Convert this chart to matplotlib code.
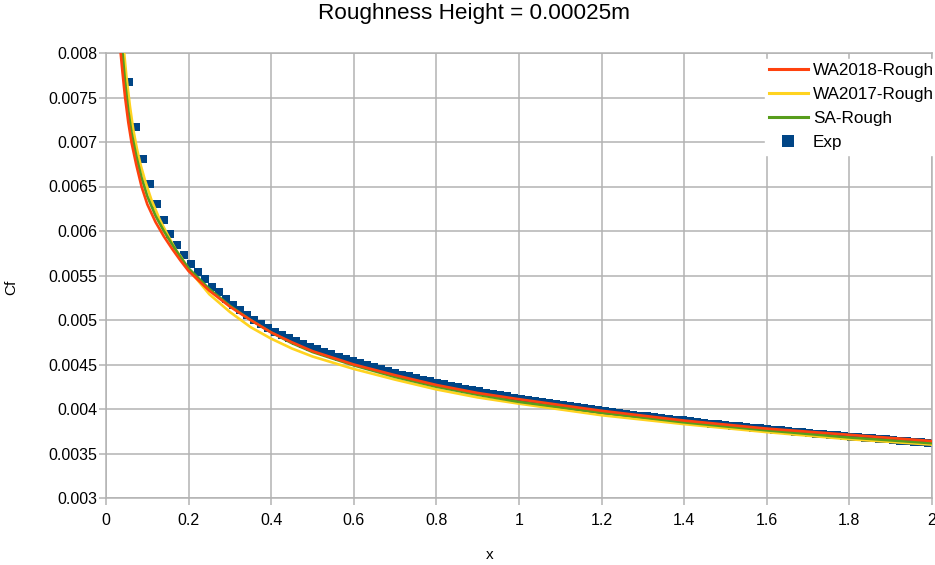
import matplotlib
matplotlib.use("Agg")
import matplotlib.pyplot as plt
from matplotlib.lines import Line2D

plt.rcParams['font.family'] = ['Liberation Sans', 'DejaVu Sans']

title = "Roughness Height = 0.00025m"
xlabel = "x"
ylabel = "Cf"
series_names = ["WA2018-Rough", "WA2017-Rough", "SA-Rough", "Exp"]
xticks = [0, 0.2, 0.4, 0.6, 0.8, 1, 1.2, 1.4, 1.6, 1.8, 2]
xtick_labels = ["0", "0.2", "0.4", "0.6", "0.8", "1", "1.2", "1.4", "1.6", "1.8", "2"]
yticks = [0.003, 0.0035, 0.004, 0.0045, 0.005, 0.0055, 0.006, 0.0065, 0.007, 0.0075, 0.008]
ytick_labels = ["0.003", "0.0035", "0.004", "0.0045", "0.005", "0.0055", "0.006",
                "0.0065", "0.007", "0.0075", "0.008"]

wa2018_x = [0.033, 0.0355, 0.040, 0.046, 0.054, 0.062, 0.073, 0.086, 0.100, 0.120, 0.140,
            0.160, 0.180, 0.200, 0.250, 0.300, 0.350, 0.400, 0.450, 0.500, 0.600, 0.700,
            0.800, 0.900, 1.000, 1.200, 1.400, 1.600, 1.800, 2.000]
wa2018_y = [0.00813, 0.00800, 0.00778, 0.00751, 0.00722, 0.00699, 0.00675, 0.00650, 0.00630,
            0.00610, 0.00594, 0.00580, 0.00567, 0.00555, 0.00533, 0.00515, 0.00500, 0.00486,
            0.00475, 0.00465, 0.00450, 0.00438, 0.00427, 0.00418, 0.00411, 0.00398, 0.00387,
            0.00378, 0.00371, 0.00364]

wa2017_x = [0.041, 0.044, 0.050, 0.058, 0.066, 0.075, 0.084, 0.095, 0.110, 0.130, 0.150,
            0.170, 0.180, 0.200, 0.250, 0.300, 0.350, 0.400, 0.450, 0.500, 0.600, 0.700,
            0.800, 0.900, 1.000, 1.200, 1.400, 1.600, 1.800, 2.000]
wa2017_y = [0.00815, 0.00800, 0.00771, 0.00740, 0.00714, 0.00692, 0.00674, 0.00656, 0.00635,
            0.00613, 0.00595, 0.00578, 0.00572, 0.00557, 0.00529, 0.00509, 0.00492, 0.00479,
            0.00468, 0.00459, 0.00445, 0.00433, 0.00422, 0.00413, 0.00406, 0.00393, 0.00383,
            0.00374, 0.00366, 0.00360]

sa_x = [0.037, 0.040, 0.046, 0.054, 0.062, 0.073, 0.086, 0.100, 0.120, 0.140, 0.160, 0.180,
        0.200, 0.250, 0.300, 0.350, 0.400, 0.450, 0.500, 0.600, 0.700, 0.800, 0.900, 1.000,
        1.200, 1.400, 1.600, 1.800, 2.000]
sa_y = [0.00815, 0.00800, 0.00768, 0.00735, 0.00710, 0.00685, 0.00660, 0.00639, 0.00617,
        0.00600, 0.00585, 0.00571, 0.00558, 0.00535, 0.00516, 0.00500, 0.00486, 0.00474,
        0.00464, 0.00449, 0.00436, 0.00425, 0.00416, 0.00408, 0.00396, 0.00385, 0.00376,
        0.00368, 0.003615]

exp_x = [0.056, 0.073, 0.090, 0.106, 0.123, 0.140, 0.156, 0.173, 0.190, 0.206, 0.223, 0.240,
         0.257, 0.274, 0.291, 0.308, 0.325, 0.342, 0.359, 0.376, 0.393, 0.410, 0.427, 0.444,
         0.461, 0.478, 0.495, 0.512, 0.529, 0.546, 0.563, 0.580, 0.597, 0.614, 0.631, 0.648,
         0.665, 0.682, 0.699, 0.716, 0.733, 0.750, 0.767, 0.784, 0.801, 0.818, 0.835, 0.852,
         0.869, 0.886, 0.903, 0.920, 0.937, 0.954, 0.971, 0.988, 1.005, 1.022, 1.039, 1.056,
         1.073, 1.090, 1.107, 1.124, 1.141, 1.158, 1.175, 1.192, 1.209, 1.226, 1.243, 1.260,
         1.277, 1.294, 1.311, 1.328, 1.345, 1.362, 1.379, 1.396, 1.413, 1.430, 1.447, 1.464,
         1.481, 1.498, 1.515, 1.532, 1.549, 1.566, 1.583, 1.600, 1.617, 1.634, 1.651, 1.668,
         1.685, 1.702, 1.719, 1.736, 1.753, 1.770, 1.787, 1.804, 1.821, 1.838, 1.855, 1.872,
         1.889, 1.906, 1.923, 1.940, 1.957, 1.974, 1.991]
exp_y = [0.00767, 0.00717, 0.00681, 0.00653, 0.00630, 0.00612, 0.00597, 0.00584, 0.00573,
         0.00563, 0.00554, 0.00546, 0.005375, 0.00531, 0.005235, 0.00517, 0.00511, 0.005055,
         0.00500, 0.004955, 0.00491, 0.00487, 0.00483, 0.00480,
         0.004762, 0.004730, 0.004699, 0.004669, 0.004641, 0.004614, 0.004587, 0.004562,
         0.004537, 0.004513, 0.004490, 0.004468, 0.004447, 0.004426, 0.004405, 0.004386,
         0.004366, 0.004348, 0.004330, 0.004312, 0.004295, 0.004278, 0.004261, 0.004245,
         0.004230, 0.004214, 0.004200, 0.004185, 0.004170, 0.004156, 0.004143, 0.004129,
         0.004116, 0.004103, 0.004091, 0.004078, 0.004066, 0.004054, 0.004042, 0.004031,
         0.004019, 0.004008, 0.003998, 0.003987, 0.003976, 0.003966, 0.003956, 0.003946,
         0.003936, 0.003926, 0.003916, 0.003907, 0.003898, 0.003889, 0.003880, 0.003871,
         0.003862, 0.003853, 0.003845, 0.003836, 0.003828, 0.003820, 0.003812, 0.003804,
         0.003796, 0.003789, 0.003781, 0.003773, 0.003766, 0.003759, 0.003751, 0.003744,
         0.003737, 0.003730, 0.003723, 0.003716, 0.003710, 0.003703, 0.003696, 0.003690,
         0.003683, 0.003677, 0.003670, 0.003664, 0.003658, 0.003652, 0.003646, 0.003640,
         0.003634, 0.003628, 0.003622]

c_red = "#ff420e"
c_yellow = "#ffd320"
c_green = "#579d1c"
c_blue = "#004586"
c_grid = "#b3b3b3"

W, H = 935, 565
fig = plt.figure(figsize=(W / 100, H / 100), dpi=100)
ax = fig.add_axes([106 / W, 1 - 498 / H, (932 - 106) / W, (498 - 53) / H])

ax.plot(exp_x, exp_y, linestyle="none", marker="s", markersize=5.6,
        color=c_blue, markeredgewidth=0, zorder=2)
ax.plot(wa2017_x, wa2017_y, color=c_yellow, linewidth=1.9, zorder=3)
ax.plot(sa_x, sa_y, color=c_green, linewidth=1.9, zorder=4)
ax.plot(wa2018_x, wa2018_y, color=c_red, linewidth=1.9, zorder=5)

ax.set_xlim(0, 2)
ax.set_ylim(0.003, 0.008)
ax.set_xticks(xticks)
ax.set_xticklabels(xtick_labels)
ax.set_yticks(yticks)
ax.set_yticklabels(ytick_labels)
ax.grid(True, color=c_grid, linewidth=1.1, zorder=0)
ax.set_axisbelow(True)
for s in ax.spines.values():
    s.set_color(c_grid)
    s.set_linewidth(1.1)
ax.tick_params(axis="both", colors=c_grid, labelcolor="black", labelsize=11.5,
               length=5, width=1.1)
ax.tick_params(axis="y", pad=1)
ax.tick_params(axis="x", pad=5.5)

fig.text(474 / W, 1 - 14 / H, title, ha="center", va="center", fontsize=16.2)
fig.text(490 / W, 1 - 555 / H, xlabel, ha="center", va="center", fontsize=11)
fig.text(11 / W, 1 - 287 / H, ylabel, ha="center", va="center", fontsize=11, rotation=90)

handles = [
    Line2D([], [], color=c_red, linewidth=2.2),
    Line2D([], [], color=c_yellow, linewidth=2.2),
    Line2D([], [], color=c_green, linewidth=2.2),
    Line2D([], [], color=c_blue, linestyle="none", marker="s", markersize=8.5,
           markeredgewidth=0),
]
leg = fig.legend(handles, series_names, loc="upper left",
                 bbox_to_anchor=(765 / W, 1 - 59 / H), fontsize=12.3, frameon=True,
                 fancybox=False, borderpad=0.25, labelspacing=0.53, handlelength=2.25,
                 handletextpad=0.3, borderaxespad=0)
leg.get_frame().set_facecolor("white")
leg.get_frame().set_edgecolor("white")
leg.get_frame().set_alpha(1)

fig.savefig("out.png", dpi=100)
